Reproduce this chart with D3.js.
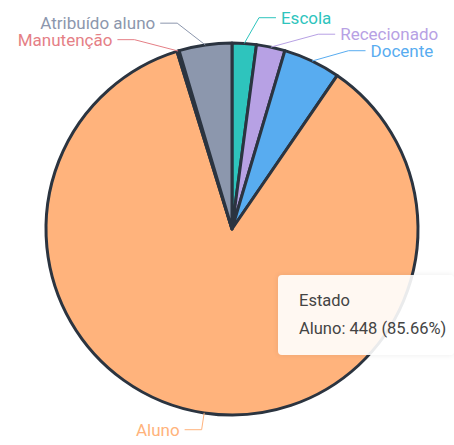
<!DOCTYPE html>
<html>
<head>
<meta charset="utf-8">
<script src="https://cdn.jsdelivr.net/npm/d3@7"></script>
<style>
  body { margin: 0; background: #fff; font-family: Roboto, sans-serif; }
  #graf { position: relative; width: 454px; height: 445px; overflow: hidden; }
  .tip {
    position: absolute; left: 278px; top: 275px; width: 176px; height: 80px;
    box-sizing: border-box; padding: 12px 0 0 21px;
    background: rgba(255, 255, 255, 0.9); border-radius: 4px;
    box-shadow: 0 0 6px rgba(0,0,0,0.08);
    color: #444; font-size: 16.5px; line-height: 28px; white-space: nowrap;
  }
</style>
</head>
<body>
<div id="graf"></div>
<script>
// datos
categorias = ['Escola', 'Rececionado', 'Docente', 'Aluno', 'Manutenção', 'Atribuído aluno']
valores = [11, 13, 26, 448, 1, 24]
colores = ['#2ec4bd', '#b7a1e4', '#58acf0', '#ffb37c', '#e57f86', '#8c97ad']
tituloTip = 'Estado'

ancho_total = 454
alto_total = 445
cx = 232
cy = 229
radio = 186

svg = d3.select('#graf').append('svg')
        .attr('width', ancho_total)
        .attr('height', alto_total)

g = svg.append('g')
       .attr('transform', `translate(${cx}, ${cy})`)

datos = categorias.map((c, i) => ({ nombre: c, valor: valores[i], color: colores[i] }))

pie = d3.pie()
        .value(d => d.valor)
        .sort(null)

arc = d3.arc()
        .innerRadius(0)
        .outerRadius(radio)

arcos = pie(datos)

g.selectAll('path')
  .data(arcos)
  .enter()
  .append('path')
    .attr('d', arc)
    .style('fill', d => d.data.color)
    .style('stroke', '#2b3440')
    .style('stroke-width', 3)
    .style('stroke-linejoin', 'round')

// etiquetas con lineas guia
len1 = 17
len2 = 17
R2 = radio + len1
Rx = R2 + 10
sep = 16.5
etiquetas = arcos.map(d => {
  a = (d.startAngle + d.endAngle) / 2
  p0 = [Math.sin(a) * radio, -Math.cos(a) * radio]
  p1 = [Math.sin(a) * R2, -Math.cos(a) * R2]
  return { d: d, a: a, p0: p0, p1: p1, der: Math.sin(a) >= 0, movida: false }
})

// evitar solapamiento por lado (agrupando y centrando)
;[true, false].forEach(lado => {
  grupo = etiquetas.filter(e => e.der == lado && e.p1[1] < 0)
  grupo.sort((a, b) => a.p1[1] - b.p1[1])
  bloques = grupo.map(e => ({ items: [e], y0: e.p1[1] }))
  cambio = true
  while (cambio) {
    cambio = false
    for (i = 1; i < bloques.length; i++) {
      a = bloques[i - 1], b = bloques[i]
      if (b.y0 < a.y0 + a.items.length * sep) {
        items = a.items.concat(b.items)
        media = d3.mean(items, e => e.p1[1])
        bloques.splice(i - 1, 2, { items: items, y0: media - (items.length - 1) * sep / 2 })
        cambio = true
        break
      }
    }
  }
  bloques.forEach(bl => bl.items.forEach((e, k) => {
    if (bl.items.length > 1) e.movida = true
    e.p1[1] = bl.y0 + k * sep
  }))
  grupo.forEach(e => {
    if (!e.movida) return
    dx = Math.sqrt(Math.max(0, Rx * Rx - e.p1[1] * e.p1[1]))
    dx = Math.max(dx, Math.abs(Math.sin(e.a) * R2))
    e.p1[0] = lado ? dx : -dx
  })
})

etiquetas.forEach(e => {
  e.p1[1] = Math.min(e.p1[1], alto_total - cy - 9)
  s = e.der ? 1 : -1
  e.p2 = [e.p1[0] + s * len2, e.p1[1]]
})

g.selectAll('polyline')
  .data(etiquetas)
  .enter()
  .append('polyline')
    .attr('points', e => [e.p0, e.p1, e.p2].map(p => p.join(',')).join(' '))
    .style('fill', 'none')
    .style('stroke', e => e.d.data.color)
    .style('stroke-width', 1)

g.selectAll('text')
  .data(etiquetas)
  .enter()
  .append('text')
    .attr('x', e => e.p2[0] + (e.der ? 5 : -5))
    .attr('y', e => e.p2[1])
    .attr('dy', '0.35em')
    .attr('text-anchor', e => e.der ? 'start' : 'end')
    .style('font-size', '17px')
    .style('fill', e => e.d.data.color)
    .text(e => e.d.data.nombre)

// tooltip
total = d3.sum(valores)
iAluno = categorias.indexOf('Aluno')
tip = d3.select('#graf').append('div').attr('class', 'tip')
tip.append('div').text(tituloTip)
tip.append('div').text(`${categorias[iAluno]}: ${valores[iAluno]} (${(valores[iAluno] / total * 100).toFixed(2)}%)`)
</script>
</body>
</html>
